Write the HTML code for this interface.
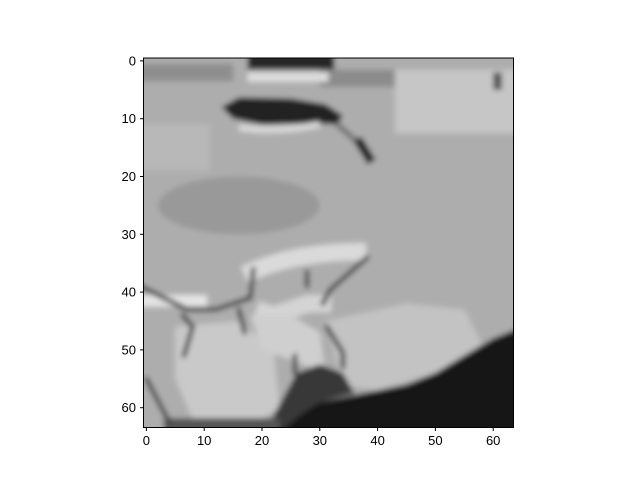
<!DOCTYPE html>
<html><head><meta charset="utf-8"><style>
html,body{margin:0;padding:0;background:#fff;}
svg text{font-family:"Liberation Sans","DejaVu Sans",sans-serif;font-size:13px;fill:#000;}
</style></head><body>
<svg width="640" height="480" xmlns="http://www.w3.org/2000/svg">
<defs><clipPath id="c"><rect x="-0.5" y="-0.5" width="64" height="64"/></clipPath>
<filter id="b" x="-5%" y="-5%" width="110%" height="110%"><feGaussianBlur stdDeviation="0.45"/></filter></defs>
<g transform="translate(146.4,60.9) scale(5.78)" clip-path="url(#c)">
<rect x="-0.5" y="-0.5" width="64" height="64" fill="#adadad"/>
<g filter="url(#b)">
<rect x="-2" y="-2" width="68" height="68" fill="#adadad"/>
<rect x="-2" y="0.5" width="17" height="3" fill="#8e8e8e"/>
<rect x="-2" y="11" width="13" height="8" fill="#b8b8b8"/>
<rect x="43" y="1.5" width="22" height="11" fill="#c6c6c6"/>
<rect x="30" y="1.5" width="13" height="3" fill="#8c8c8c"/>
<ellipse cx="16" cy="25" rx="14" ry="5" fill="#999"/>
<rect x="17.5" y="-2" width="15" height="3.5" fill="#262626"/>
<rect x="17.5" y="2" width="14" height="1.6" fill="#dedede"/>
<rect x="60" y="2" width="1.5" height="3" fill="#555"/>
<polygon points="13,8 16,6.3 25,6.5 31,7.5 34,9.5 33,11 29,10.8 20,11 15,10" fill="#232323"/>
<path d="M16,11.5 Q22,12.5 30,11" stroke="#d8d8d8" stroke-width="1.2" fill="none"/>
<path d="M33,11 L36.5,14" stroke="#777" stroke-width="1" fill="none"/>
<path d="M36.5,13.5 L39,17.5" stroke="#222" stroke-width="1.6" fill="none"/>
<rect x="-2" y="40.5" width="12.5" height="2" fill="#e4e4e4"/>
<path d="M17,37 Q25,33 38,33" stroke="#dadada" stroke-width="3" fill="none"/>
<path d="M19,43 L22,44 L28,42 L32,42" stroke="#d4d4d4" stroke-width="3" fill="none"/>
<polygon points="5,46 16,45 22,50 23,60 20,62 8,62 5,55" fill="#c9c9c9"/>
<polygon points="18,44 25,44 30,47 31,54 26,52 20,50" fill="#cfcfcf"/>
<polygon points="31,45 45,42 55,43 58,49 50,54 40,57 34,56" fill="#c3c3c3"/>
<polygon points="26,54 30,52.5 34,54 36,57.5 30,59 26,62 23,65 20,65" fill="#383838"/>
<rect x="3" y="61.8" width="20" height="3" fill="#555"/>
<polygon points="65,46 60,48 55,51 50,54 45,56 40,57 35,58 30,59 27,61 22,65 65,65" fill="#181818"/>
<g stroke="#444" stroke-width="0.8" fill="none" stroke-linecap="round">
<path d="M-2,38.5 L3,41 L7,43 L12,43 L15,42 L18,41 L18.5,36"/>
<path d="M16,43 L17,47"/>
<path d="M6.3,44 L8,46 L6.5,51"/>
<path d="M25.7,51 L25.7,54"/>
<path d="M31.2,46 L34,50.5 L34,53"/>
<path d="M38.2,34 L31.8,39.6 L30.5,42"/>
<path d="M27.8,36.5 L27.8,39"/>
<path d="M0,55 L4,62.6"/>
</g>
</g>
</g>
<g id="axes"></g>
<rect x="143.5" y="58" width="370" height="369.5" fill="none" stroke="#000" stroke-width="1"/>
</svg>
<script>
const ticks = [0,10,20,30,40,50,60];
const ax = document.getElementById('axes');
const NS = 'http://www.w3.org/2000/svg';
const sx = v => 146.4 + v*5.78;
const sy = v => 60.9 + v*5.78;
ticks.forEach(t => {
  const l = document.createElementNS(NS,'line');
  l.setAttribute('x1',sx(t));l.setAttribute('x2',sx(t));l.setAttribute('y1',427.5);l.setAttribute('y2',431);
  l.setAttribute('stroke','#000');
  
  
  ax.appendChild(l);
  const tx = document.createElementNS(NS,'text');
  tx.setAttribute('x',sx(t));tx.setAttribute('y',445);tx.setAttribute('text-anchor','middle');
  tx.textContent = t;
  
  
  ax.appendChild(tx);
  const l2 = document.createElementNS(NS,'line');
  l2.setAttribute('x1',140);l2.setAttribute('x2',143.5);l2.setAttribute('y1',sy(t));l2.setAttribute('y2',sy(t));
  l2.setAttribute('stroke','#000');
  
  
  ax.appendChild(l2);
  const ty = document.createElementNS(NS,'text');
  ty.setAttribute('x',136);ty.setAttribute('y',sy(t)+4.5);ty.setAttribute('text-anchor','end');
  ty.textContent = t;
  
  
  ax.appendChild(ty);
});
</script>
</body></html>
